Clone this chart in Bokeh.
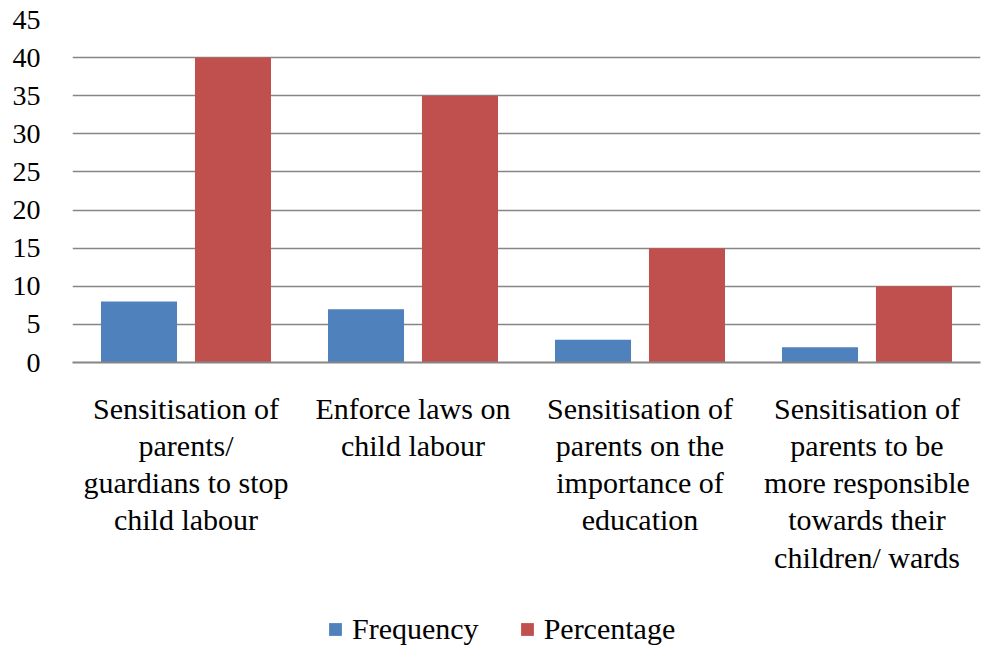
from bokeh.plotting import figure
from bokeh.layouts import column
from bokeh.models import FactorRange, ColumnDataSource, Legend, LegendItem, SingleIntervalTicker
from bokeh.transform import dodge
from bokeh.embed import file_html
from bokeh.resources import INLINE

categories = [
    "Sensitisation of\nparents/\nguardians to stop\nchild labour",
    "Enforce laws on\nchild labour",
    "Sensitisation of\nparents on the\nimportance of\neducation",
    "Sensitisation of\nparents to be\nmore responsible\ntowards their\nchildren/ wards",
]
frequency = [8, 7, 3, 2]
percentage = [40, 35, 15, 10]
series_names = ["Frequency", "Percentage"]
series_colors = ["#4F81BD", "#C0504D"]

src = ColumnDataSource(dict(cat=categories, freq=frequency, pct=percentage))

FONT = "Liberation Serif"
p = figure(x_range=FactorRange(factors=categories, range_padding=0),
           y_range=(0, 45), frame_width=908, frame_height=343,
           output_backend="svg", toolbar_location=None,
           min_border_left=72, min_border_right=2, min_border_top=19,
           min_border_bottom=230)

r1 = p.vbar(x=dodge("cat", -0.207, range=p.x_range), top="freq", width=0.335,
            source=src, fill_color=series_colors[0], line_color=None)
r2 = p.vbar(x=dodge("cat", 0.207, range=p.x_range), top="pct", width=0.335,
            source=src, fill_color=series_colors[1], line_color=None)

p.yaxis.ticker = SingleIntervalTicker(interval=5)
p.yaxis.axis_line_color = None
p.yaxis.major_tick_line_color = None
p.yaxis.minor_tick_line_color = None
p.yaxis.major_label_text_font = FONT
p.yaxis.major_label_text_font_size = "28px"
p.yaxis.major_label_text_color = "black"
p.yaxis.major_label_standoff = 26

p.xaxis.axis_line_color = "#868686"
p.xaxis.axis_line_width = 2
p.xaxis.major_tick_line_color = None
p.xaxis.minor_tick_line_color = None
p.xaxis.major_label_text_font = FONT
p.xaxis.major_label_text_font_size = "30px"
p.xaxis.major_label_text_color = "black"
p.xaxis.major_label_standoff = 23
p.xaxis.major_label_text_line_height = 1.13

p.xgrid.grid_line_color = None
p.ygrid.grid_line_color = "#868686"
p.ygrid.grid_line_width = 1.5
p.outline_line_color = None

# legend in a small strip under the chart (its frame aligns with the chart's frame)
lg = figure(frame_width=908, height=54, x_range=(0, 1), y_range=(0, 1),
            output_backend="svg", toolbar_location=None,
            min_border_left=72, min_border_right=2, min_border_top=0, min_border_bottom=0)
lg.axis.visible = False
lg.grid.grid_line_color = None
lg.outline_line_color = None
lr1 = lg.vbar(x=[0.5], top=[0], width=0.0, fill_color=series_colors[0], line_color=None)
lr2 = lg.vbar(x=[0.5], top=[0], width=0.0, fill_color=series_colors[1], line_color=None)
legend = Legend(items=[LegendItem(label=series_names[0], renderers=[lr1]),
                       LegendItem(label=series_names[1], renderers=[lr2])],
                orientation="horizontal", location=(255, 0),
                label_text_font=FONT, label_text_font_size="30px",
                label_text_color="black", label_standoff=9,
                glyph_width=16, glyph_height=16, spacing=40,
                border_line_color=None, background_fill_alpha=0,
                padding=0, margin=0)
lg.add_layout(legend)

layout = column(p, lg, spacing=0)
open("out.html", "w").write(file_html(layout, INLINE))
